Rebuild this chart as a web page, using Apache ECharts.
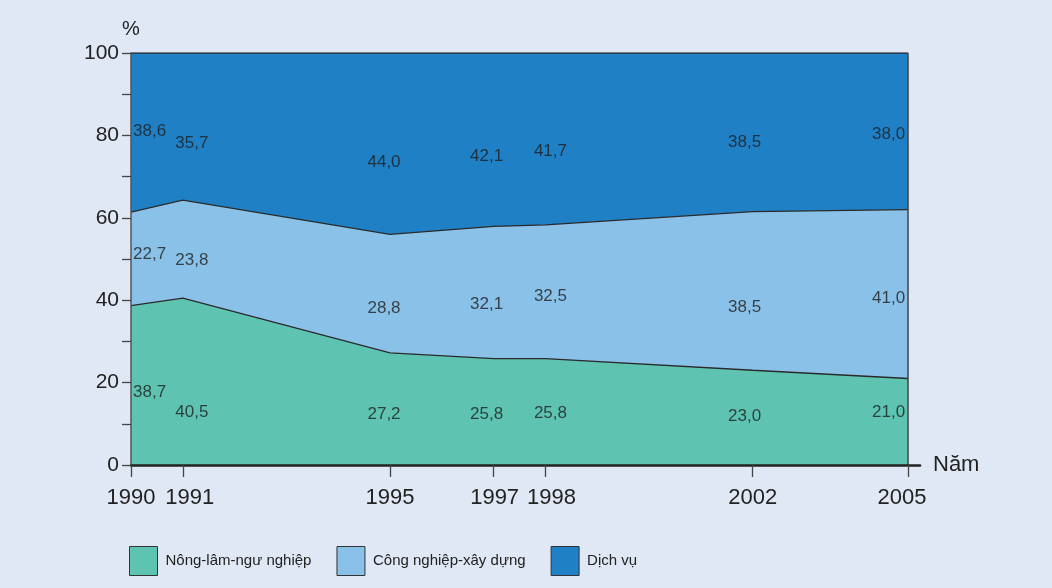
<!DOCTYPE html>
<html>
<head>
<meta charset="utf-8">
<script src="https://cdn.jsdelivr.net/npm/echarts@6/dist/echarts.min.js"></script>
<style>
html,body{margin:0;padding:0;background:#E1E8F5;}
#chart{width:1052px;height:588px;}
</style>
</head>
<body>
<div id="chart"></div>
<script>
// ---- data ----
const years = [1990, 1991, 1995, 1997, 1998, 2002, 2005];
const seriesNames = ['Nông-lâm-ngư nghiệp', 'Công nghiệp-xây dựng', 'Dịch vụ'];
const agriculture = [38.7, 40.5, 27.2, 25.8, 25.8, 23.0, 21.0];
const industry = [22.7, 23.8, 28.8, 32.1, 32.5, 38.5, 41.0];
const services = [38.6, 35.7, 44.0, 42.1, 41.7, 38.5, 38.0];
const yTicks = [0, 20, 40, 60, 80, 100];

// ---- layout (label anchors, not data) ----
const labelHeights = [
  [17.7, 12.9, 12.4, 12.4, 12.6, 11.9, 12.9],
  [51.2, 49.8, 38.1, 39.1, 41.0, 38.3, 40.5],
  [81.1, 78.2, 73.5, 75.0, 76.2, 78.4, 80.3]
];
const labelDx = [2, 9, -6, -7, 5, -8, -3];
const colors = ['#5EC4B1', '#8AC1E8', '#1F80C5'];
const values = [agriculture, industry, services];

// cumulative tops of each band (stacked percentages)
const tops = [];
values.forEach((vals, i) => {
  tops.push(vals.map((v, k) => v + (i > 0 ? tops[i - 1][k] : 0)));
});

const FONT = '"Liberation Sans", Arial, Helvetica, sans-serif';

const fmt = v => v.toFixed(1).replace('.', ',');

// bands drawn top-down so that lower bands paint over upper ones
const areaSeries = values.map((vals, i) => ({
  name: seriesNames[i],
  type: 'line',
  data: tops[i].map((v, k) => [years[k], v]),
  showSymbol: false,
  symbol: 'none',
  lineStyle: {color: '#2a2a2a', width: 1.3},
  itemStyle: {color: colors[i], borderColor: '#333', borderWidth: 1},
  areaStyle: {color: colors[i], opacity: 1, origin: 'start'},
  z: 4 - i,
  markLine: i === 2 ? {
    silent: true, symbol: 'none', label: {show: false},
    lineStyle: {color: '#444', width: 1.5, type: 'solid'},
    data: [[{coord: [2005, 0]}, {coord: [2005, 100]}]]
  } : undefined
}));

const labelSeries = values.map((vals, i) => ({
  type: 'scatter',
  symbolSize: 0,
  silent: true,
  z: 6,
  data: vals.map((v, k) => ({
    value: [years[k], labelHeights[i][k], v],
    label: {
      align: k === 0 ? 'left' : (k === years.length - 1 ? 'right' : 'center'),
      offset: [labelDx[k], 0]
    }
  })),
  label: {
    show: true,
    position: 'inside',
    verticalAlign: 'middle',
    formatter: p => fmt(p.value[2]),
    fontFamily: FONT,
    fontSize: 17,
    color: '#1e1e1e'
  }
}));

const yearShift = {1991: [0, 0, 0, 14], 1998: [0, 0, 0, 12], 1997: [0, 0, 0, 2], 2005: [0, 12, 0, 0]};
const rich = {};
Object.keys(yearShift).forEach(y => {
  rich['y' + y] = {padding: yearShift[y], fontSize: 22, fontFamily: FONT, color: '#222'};
});

const chart = echarts.init(document.getElementById('chart'));
chart.setOption({
  backgroundColor: '#E1E8F5',
  animation: false,
  grid: {left: 131, top: 53, right: 132, bottom: 123, containLabel: false},
  legend: {
    left: 129, top: 546,
    padding: 0,
    icon: 'rect',
    itemWidth: 28, itemHeight: 29,
    itemGap: 25,
    itemStyle: {borderColor: '#333', borderWidth: 1},
    textStyle: {fontFamily: FONT, fontSize: 15, color: '#222', padding: [0, 0, 0, 3]},
    data: seriesNames
  },
  xAxis: {
    type: 'value',
    min: 1990, max: 2005.23,
    z: 10,
    name: 'Năm',
    nameLocation: 'end',
    nameGap: 13,
    nameTextStyle: {fontFamily: FONT, fontSize: 22, color: '#222', padding: [16, 0, 0, 0]},
    axisLine: {show: true, lineStyle: {color: '#222', width: 2.5}},
    axisTick: {show: true, customValues: years, length: 12, lineStyle: {color: '#444', width: 1.3}},
    axisLabel: {
      customValues: years,
      margin: 22,
      fontFamily: FONT, fontSize: 22, color: '#222',
      formatter: v => yearShift[v] ? '{y' + v + '|' + v + '}' : String(v),
      rich: rich
    },
    splitLine: {show: false}
  },
  yAxis: {
    type: 'value',
    min: 0, max: 100, interval: 10,
    z: 10,
    name: '%',
    nameLocation: 'end',
    nameGap: 14,
    nameTextStyle: {fontFamily: FONT, fontSize: 20, color: '#222', align: 'center'},
    axisLine: {show: true, lineStyle: {color: '#555', width: 1.5}},
    axisTick: {show: true, length: 9, lineStyle: {color: '#444', width: 1.3}},
    axisLabel: {
      margin: 12,
      fontFamily: FONT, fontSize: 21, color: '#222',
      formatter: v => yTicks.indexOf(v) >= 0 ? String(v) : ''
    },
    splitLine: {show: false}
  },
  series: areaSeries.concat(labelSeries)
});
</script>
</body>
</html>
